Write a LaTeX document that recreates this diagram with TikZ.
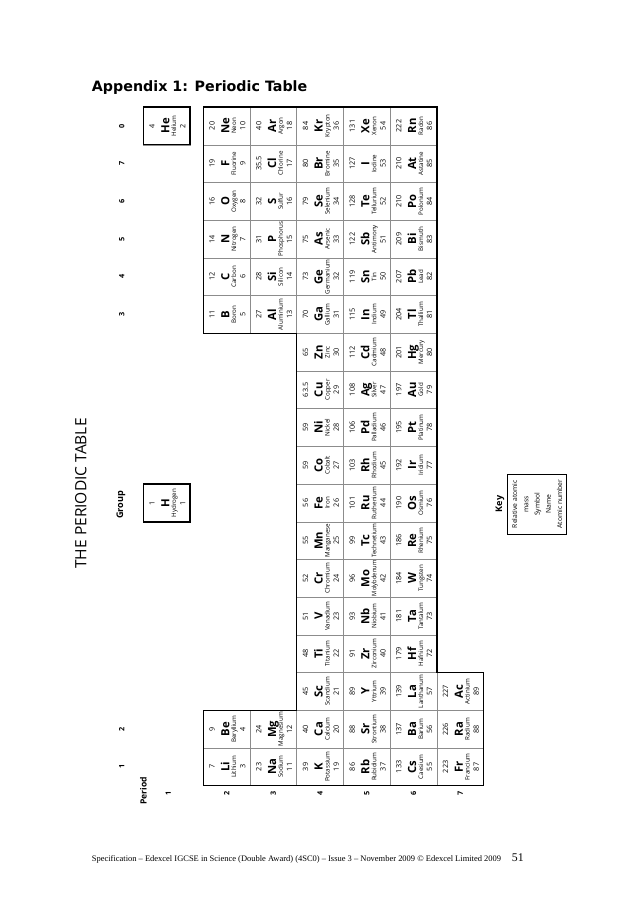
\documentclass[tikz,border=0pt]{standalone}
\usepackage{fontspec}
\usepackage{graphicx}
\setmainfont{Liberation Serif}
\newfontfamily\tablefont{Open Sans}
\newfontfamily\headfont{DejaVu Sans}

\newsavebox\elnamebox
\newcommand\elmassfont{\tablefont\fontsize{6.8}{7}\selectfont}
\newcommand\elsymfont{\tablefont\bfseries\fontsize{10.5}{12}\selectfont}
\newcommand\elnamefont{\tablefont\fontsize{5.8}{6}\selectfont}
\newcommand\elnamefit[1]{\sbox\elnamebox{\elnamefont #1}%
  \ifdim\wd\elnamebox>33pt \resizebox{33pt}{\height}{\usebox\elnamebox}\else\usebox\elnamebox\fi}
\newcommand\elbox[4]{\vbox to 43.57pt{\hsize=35.17pt\offinterlineskip
  \vskip10.6pt\hbox to\hsize{\hss\smash{\elmassfont #1}\hss}
  \vskip13.7pt\hbox to\hsize{\hss\smash{\elsymfont #2}\hss}
  \vskip6.4pt\hbox to\hsize{\hss\smash{\elnamefit{#3}}\hss}
  \vskip8.6pt\hbox to\hsize{\hss\smash{\elmassfont #4}\hss}
  \vss}}

\begin{document}
\begin{tikzpicture}[x=0.933pt, y=-0.933pt,
    elcell/.style={draw=black!45, line width=0.4pt, inner sep=0pt, minimum width=35.17pt, minimum height=43.57pt},
    frame/.style={line width=1.3pt, line join=miter},
    rowlabel/.style={font=\tablefont\bfseries\fontsize{6.8}{7}\selectfont, inner sep=0pt},
    headlabel/.style={font=\tablefont\bfseries\fontsize{8.5}{10}\selectfont, inner sep=0pt}]
  \useasboundingbox (0,0) rectangle (638,903);

  \node[anchor=base west, inner sep=0pt, font=\headfont\bfseries\fontsize{13.3}{15}\selectfont] (title) at (91.7,91) {Appendix 1: Periodic Table};

  % table, laid out upright and turned a quarter
  \begin{scope}[shift={(143.3,785.7)}, rotate=90, transform shape]
    \foreach \g/\p/\m/\s/\n/\z in {
        7/1/1/H/Hydrogen/1, 17/1/4/He/Helium/2,
        0/2/7/Li/Lithium/3, 1/2/9/Be/Beryllium/4, 12/2/11/B/Boron/5, 13/2/12/C/Carbon/6,
        14/2/14/N/Nitrogen/7, 15/2/16/O/Oxygen/8, 16/2/19/F/Fluorine/9, 17/2/20/Ne/Neon/10,
        0/3/23/Na/Sodium/11, 1/3/24/Mg/Magnesium/12, 12/3/27/Al/Aluminium/13, 13/3/28/Si/Silicon/14,
        14/3/31/P/Phosphorus/15, 15/3/32/S/Sulfur/16, 16/3/35.5/Cl/Chlorine/17, 17/3/40/Ar/Argon/18,
        0/4/39/K/Potassium/19, 1/4/40/Ca/Calcium/20, 2/4/45/Sc/Scandium/21, 3/4/48/Ti/Titanium/22,
        4/4/51/V/Vanadium/23, 5/4/52/Cr/Chromium/24, 6/4/55/Mn/Manganese/25, 7/4/56/Fe/Iron/26,
        8/4/59/Co/Cobalt/27, 9/4/59/Ni/Nickel/28, 10/4/63.5/Cu/Copper/29, 11/4/65/Zn/Zinc/30,
        12/4/70/Ga/Gallium/31, 13/4/73/Ge/Germanium/32, 14/4/75/As/Arsenic/33, 15/4/79/Se/Selenium/34,
        16/4/80/Br/Bromine/35, 17/4/84/Kr/Krypton/36,
        0/5/86/Rb/Rubidium/37, 1/5/88/Sr/Strontium/38, 2/5/89/Y/Yttrium/39, 3/5/91/Zr/Zirconium/40,
        4/5/93/Nb/Niobium/41, 5/5/96/Mo/Molybdenum/42, 6/5/99/Tc/Technetium/43, 7/5/101/Ru/Ruthenium/44,
        8/5/103/Rh/Rhodium/45, 9/5/106/Pd/Palladium/46, 10/5/108/Ag/Silver/47, 11/5/112/Cd/Cadmium/48,
        12/5/115/In/Indium/49, 13/5/119/Sn/Tin/50, 14/5/122/Sb/Antimony/51, 15/5/128/Te/Tellurium/52,
        16/5/127/I/Iodine/53, 17/5/131/Xe/Xenon/54,
        0/6/133/Cs/Caesium/55, 1/6/137/Ba/Barium/56, 2/6/139/La/Lanthanum/57, 3/6/179/Hf/Hafnium/72,
        4/6/181/Ta/Tantalum/73, 5/6/184/W/Tungsten/74, 6/6/186/Re/Rhenium/75, 7/6/190/Os/Osmium/76,
        8/6/192/Ir/Iridium/77, 9/6/195/Pt/Platinum/78, 10/6/197/Au/Gold/79, 11/6/201/Hg/Mercury/80,
        12/6/204/Tl/Thallium/81, 13/6/207/Pb/Lead/82, 14/6/209/Bi/Bismuth/83, 15/6/210/Po/Polonium/84,
        16/6/210/At/Astatine/85, 17/6/222/Rn/Radon/86,
        0/7/223/Fr/Francium/87, 1/7/226/Ra/Radium/88, 2/7/227/Ac/Actinium/89}
    {
      \pgfmathsetmacro\ac{(\g+0.5)*37.7}
      \pgfmathsetmacro\bc{\p==1 ? 23.35 : 60+(\p-2)*46.7+23.35}
      \node[elcell] (\s) at (\ac,\bc) {\elbox{\m}{\s}{\n}{\z}};
    }

    \draw[frame] (0,60) -- (75.4,60) -- (75.4,153.4) -- (452.4,153.4) -- (452.4,60) -- (678.6,60)
      -- (678.6,293.5) -- (113.1,293.5) -- (113.1,340.2) -- (0,340.2) -- cycle;
    \draw[frame] (263.9,0) rectangle (301.6,46.7);
    \draw[frame] (640.9,0) rectangle (678.6,46.7);

    % group and period numbers
    \foreach \lab/\g in {1/0,2/1,3/12,4/13,5/14,6/15,7/16,0/17}
      \node[rowlabel] (group \lab) at ({(\g+0.5)*37.7},-21.6) {\lab};
    \node[rowlabel] (period 1) at (-7.6,25) {1};
    \foreach \p in {2,...,7}
      \node[rowlabel] (period \p) at ({-7.6},{60+(\p-2)*46.7+23.35}) {\p};
    \node[headlabel] (group) at (280.7,-22.5) {Group};
    \node[headlabel, font=\tablefont\bfseries\fontsize{8}{10}\selectfont] (period) at (-5.3,0) {Period};
    \node[inner sep=0pt, font=\tablefont\fontsize{14.5}{16}\selectfont] (heading) at (292.2,-62.5) {THE PERIODIC TABLE};

    % key
    \node[headlabel] (key) at (281.7,356.7) {Key};
    \node[draw, line width=0.8pt, inner sep=0pt, minimum width=55.7pt, minimum height=55.4pt, align=center,
      font=\tablefont\fontsize{6.3}{10.5}\selectfont] (keybox) at (281.55,393.7)
      {Relative atomic\\mass\\Symbol\\Name\\Atomic number};
  \end{scope}

  \node[anchor=base west, inner sep=0pt, font=\fontsize{7.9}{9}\selectfont] (footer) at (91.7,861.5)
    {Specification -- Edexcel IGCSE in Science (Double Award) (4SC0) -- Issue 3 -- November 2009 © Edexcel Limited 2009};
  \node[anchor=base west, inner sep=0pt, font=\fontsize{11}{13}\selectfont] (pagenum) at (511.7,861.5) {51};
\end{tikzpicture}
\end{document}
